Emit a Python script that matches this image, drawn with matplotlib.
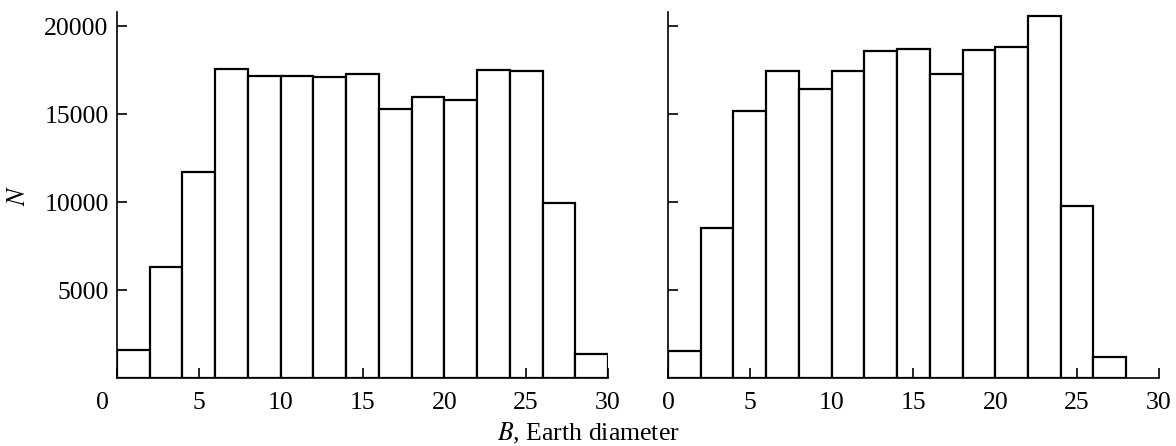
import numpy as np
import matplotlib
matplotlib.use("Agg")
import matplotlib.pyplot as plt
from matplotlib.transforms import ScaledTranslation

plt.rcParams['font.family'] = ['Liberation Serif', 'DejaVu Serif']
plt.rcParams['mathtext.fontset'] = 'stix'

# bin edges (Earth diameters) and counts
bins_left = [0, 2, 4, 6, 8, 10, 12, 14, 16, 18, 20, 22, 24, 26, 28, 30]
counts_left = [1600, 6300, 11700, 17550, 17150, 17180, 17120, 17250,
               15300, 15950, 15800, 17500, 17420, 9950, 1350]

bins_right = [0, 2, 4, 6, 8, 10, 12, 14, 16, 18, 20, 22, 24, 26, 28]
counts_right = [1550, 8500, 15200, 17420, 16450, 17420, 18600, 18700,
                17300, 18650, 18800, 20600, 9800, 1200]

xticks = [0, 5, 10, 15, 20, 25, 30]
yticks = [5000, 10000, 15000, 20000]

fig = plt.figure(figsize=(11.76, 4.46), dpi=100)
ax1 = fig.add_axes([0.0995, 0.1525, 0.4175, 0.8206])
ax2 = fig.add_axes([0.568, 0.1525, 0.4175, 0.8206])


def draw_hist(ax, edges, counts, show_ylabels):
    left = np.array(edges[:-1])
    widths = np.diff(edges)
    ax.bar(left, counts, width=widths, align='edge', color='white',
           edgecolor='black', linewidth=1.6)
    ax.set_xlim(0, 30)
    ax.set_ylim(0, 20800)
    ax.spines['top'].set_visible(False)
    ax.spines['right'].set_visible(False)
    for s in ('left', 'bottom'):
        ax.spines[s].set_linewidth(1.2)
    ax.set_xticks(xticks)
    ax.set_yticks(yticks)
    ax.tick_params(direction='in', length=7, width=1.2, labelsize=18.5)
    ax.tick_params(axis='x', pad=10)
    ax.tick_params(axis='y', pad=6)
    if not show_ylabels:
        ax.set_yticklabels([])


draw_hist(ax1, bins_left, counts_left, True)
draw_hist(ax2, bins_right, counts_right, False)

ax1.set_ylabel('$N$', fontsize=18.5, labelpad=10)

# the "0" on the left panel sits a little to the left of the axis
lbl = ax1.get_xticklabels()[0]
lbl.set_transform(lbl.get_transform() + ScaledTranslation(-0.15, 0, fig.dpi_scale_trans))

fig.text(0.5, 0.0, '$B$, Earth diameter', ha='center', va='bottom',
         fontsize=18.5)

fig.savefig('out.png', dpi=100)
